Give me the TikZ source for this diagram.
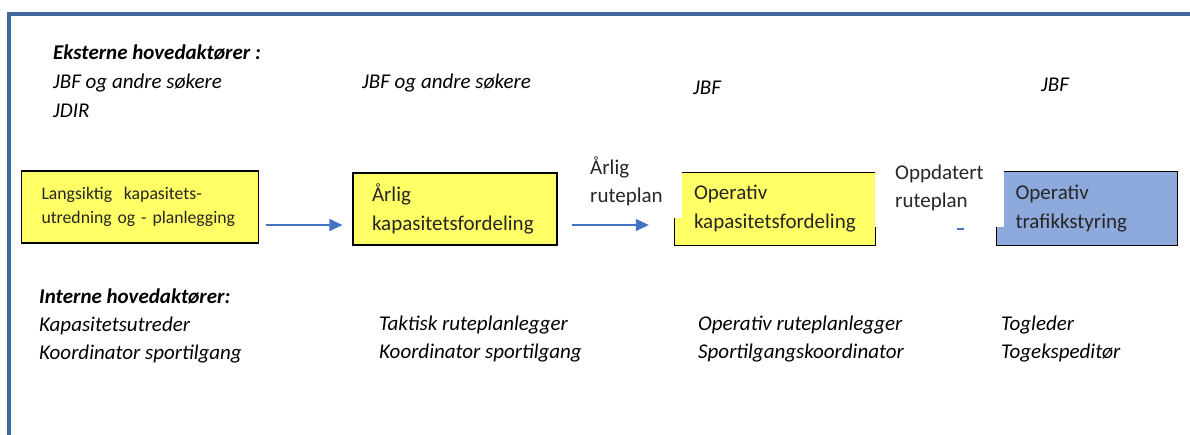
\documentclass[tikz,border=0pt]{standalone}
\usepackage{fontspec}
\setmainfont{Carlito}
\usetikzlibrary{arrows.meta}
\definecolor{frameblue}{RGB}{65,104,152}
\definecolor{flowblue}{RGB}{68,114,196}
\definecolor{boxyellow}{RGB}{255,255,102}
\definecolor{boxblue}{RGB}{142,169,219}
\definecolor{boxtext}{RGB}{38,38,38}

\begin{document}
\begin{tikzpicture}[x=1pt,y=-1pt,
  actor/.style={anchor=west,inner sep=0pt,text height=14pt,text depth=4pt,
    font=\fontsize{21}{29}\selectfont\itshape},
  heading/.style={actor,font=\fontsize{21}{29}\selectfont\bfseries\itshape},
  stage/.style={inner xsep=19pt,inner ysep=0pt,align=left,text=boxtext,
    font=\fontsize{21}{29}\selectfont},
  flow/.style={draw=flowblue,line width=1.3pt,
    -{Triangle[length=13pt,width=12pt,fill=flowblue]}},
  lbl/.style={anchor=west,inner sep=0pt,align=left,text=boxtext,
    font=\fontsize{21}{28}\selectfont}]
  \useasboundingbox (0,0) rectangle (1190,434);
  % frame
  \draw[frameblue,line width=4pt] (8.5,436) -- (8.5,14) -- (1192,14);

  % external actors
  \node[heading] (eks) at (53,54) {Eksterne hovedaktører :};
  \node[actor] (e1a) at (53,83) {JBF og andre søkere};
  \node[actor] (e1b) at (53,112) {JDIR};
  \node[actor] (e2) at (362,83) {JBF og andre søkere};
  \node[actor] (e3) at (693,89) {JBF};
  \node[actor] (e4) at (1041,86) {JBF};

  % stages
  \node[stage,fill=boxyellow,draw=black,line width=1.2pt,minimum width=236pt,
    minimum height=72pt,text width=197pt,inner xsep=20pt,
    font=\fontsize{17.7}{24}\selectfont] (b1) at (140,207)
    {Langsiktig\ \ kapasitets-\\utredning og - planlegging};
  \node[stage,fill=boxyellow,draw=black,line width=1.2pt,minimum width=204pt,
    minimum height=72pt,text width=166pt] (b2) at (455,209)
    {Årlig\\kapasitetsfordeling};
  \node[stage,fill=boxyellow,minimum width=200pt,minimum height=72pt,
    text width=162pt] (b3) at (775,209) {Operativ\\kapasitetsfordeling};
  \node[stage,fill=boxblue,minimum width=180pt,minimum height=73pt,
    text width=143pt] (b4) at (1087,208.5) {Operativ\\trafikkstyring};

  % broken outlines of the last two boxes
  \fill[white] (b3.north west) rectangle ([xshift=7pt,yshift=-45pt]b3.north west);
  \fill[white] (b4.north west) rectangle ([xshift=8pt,yshift=-55pt]b4.north west);
  \draw[line width=1.2pt] ([xshift=7pt]b3.north west) -- (b3.north east);
  \draw[line width=1.2pt] ([yshift=27pt]b3.south west) -- (b3.south west)
    -- (b3.south east) -- ([yshift=18pt]b3.south east);
  \draw[line width=1.2pt] ([xshift=8pt]b4.north west) -- (b4.north east)
    -- (b4.south east) -- (b4.south west) -- ([yshift=18pt]b4.south west);

  % flow labels
  \node[lbl] (l1) at (590,181) {Årlig\\ruteplan};
  \node[lbl] (l2) at (895,188) {Oppdatert\\ruteplan};

  % flows
  \coordinate (fy) at (0,225);
  \coordinate (gy) at (0,228.5);
  \draw[flow,shorten <=7pt,shorten >=10pt] (b1.east |- fy) -- (b2.west |- fy);
  \draw[flow,shorten <=14pt,shorten >=26pt] (b2.east |- fy) -- (b3.west |- fy);
  \draw[draw=flowblue,line width=2pt,shorten <=82pt,shorten >=32pt]
    (b3.east |- gy) -- (b4.west |- gy);

  % internal actors
  \node[heading] (int) at (39,298) {Interne hovedaktører:};
  \node[actor] (i1a) at (39,326) {Kapasitetsutreder};
  \node[actor] (i1b) at (39,354) {Koordinator sportilgang};
  \node[actor] (i2a) at (379,325) {Taktisk ruteplanlegger};
  \node[actor] (i2b) at (379,353) {Koordinator sportilgang};
  \node[actor] (i3a) at (698,325) {Operativ ruteplanlegger};
  \node[actor] (i3b) at (698,353) {Sportilgangskoordinator};
  \node[actor] (i4a) at (1001,325) {Togleder};
  \node[actor] (i4b) at (1001,353) {Togekspeditør};
\end{tikzpicture}
\end{document}
